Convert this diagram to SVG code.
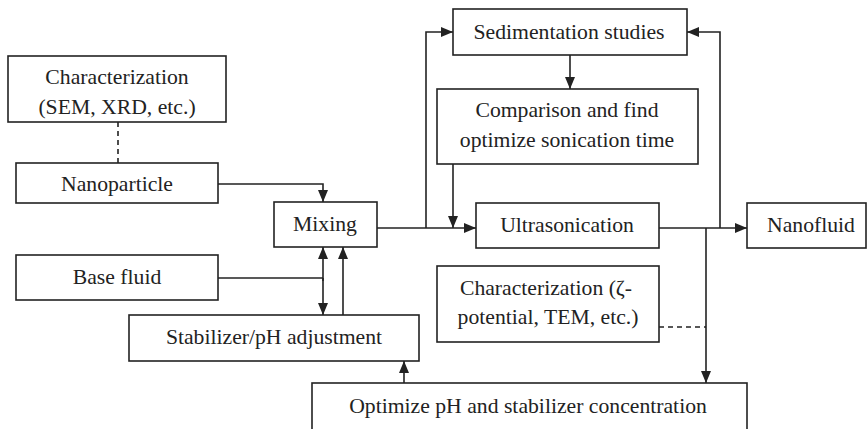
<svg xmlns="http://www.w3.org/2000/svg" width="867" height="429" viewBox="0 0 867 429">
<style>
.box{fill:#fff;stroke:#222;stroke-width:1.6}
.t{font-family:"Liberation Serif","Times New Roman",serif;font-size:21.7px;fill:#222;text-anchor:middle;dominant-baseline:central}
.c{fill:none;stroke:#222;stroke-width:1.6}
.a{marker-end:url(#ah)}
.d{stroke-dasharray:5,4}
</style>
<defs>
<marker id="ah" markerUnits="userSpaceOnUse" markerWidth="12" markerHeight="10" refX="12" refY="5" orient="auto-start-reverse">
<path d="M0,0 L12,5 L0,10 Z" fill="#222"/>
</marker>
</defs>
<rect width="867" height="429" fill="#fff"/>
<g id="connectors">
<path class="c d" d="M118,122 V163"/>
<path class="c a" d="M218,184 H323 V202"/>
<path class="c" d="M218,278 H323"/>
<path class="c a" d="M323,281 V247"/>
<path class="c a" d="M323,278 V315"/>
<path class="c a" d="M343,315 V247"/>
<path class="c a" d="M377,228 H476"/>
<path class="c a" d="M426,228 V32 H453"/>
<path class="c a" d="M570,55 V89"/>
<path class="c a" d="M453,164 V228"/>
<path class="c a" d="M659,228 H747"/>
<path class="c a" d="M720,228 V32 H687"/>
<path class="c a" d="M706,228 V383"/>
<path class="c d" d="M659,327 H706"/>
<path class="c a" d="M404,383 V361"/>
</g>
<g id="char1"><rect class="box" x="8" y="56" width="218" height="66"/><text class="t" x="117" y="77">Characterization</text><text class="t" x="117" y="107">(SEM, XRD, etc.)</text></g>
<g id="nanoparticle"><rect class="box" x="16" y="163" width="202" height="40"/><text class="t" x="117" y="184">Nanoparticle</text></g>
<g id="mixing"><rect class="box" x="274" y="202" width="103" height="45"/><text class="t" x="325" y="224">Mixing</text></g>
<g id="basefluid"><rect class="box" x="16" y="255" width="202" height="45"/><text class="t" x="117" y="277">Base fluid</text></g>
<g id="stabilizer"><rect class="box" x="129" y="315" width="290" height="46"/><text class="t" x="274" y="337">Stabilizer/pH adjustment</text></g>
<g id="sedimentation"><rect class="box" x="453" y="9" width="234" height="46"/><text class="t" x="569" y="32">Sedimentation studies</text></g>
<g id="comparison"><rect class="box" x="437" y="89" width="261" height="75"/><text class="t" x="567" y="110">Comparison and find</text><text class="t" x="567" y="140">optimize sonication time</text></g>
<g id="ultrasonication"><rect class="box" x="476" y="203" width="183" height="45"/><text class="t" x="567" y="225">Ultrasonication</text></g>
<g id="nanofluid"><rect class="box" x="747" y="203" width="119" height="45"/><text class="t" x="811" y="225">Nanofluid</text></g>
<g id="char2"><rect class="box" x="437" y="266" width="222" height="76"/><text class="t" x="546" y="288">Characterization (ζ-</text><text class="t" x="548" y="317">potential, TEM, etc.)</text></g>
<g id="optimize"><rect class="box" x="312" y="383" width="435" height="60"/><text class="t" x="528" y="406">Optimize pH and stabilizer concentration</text></g>
</svg>
